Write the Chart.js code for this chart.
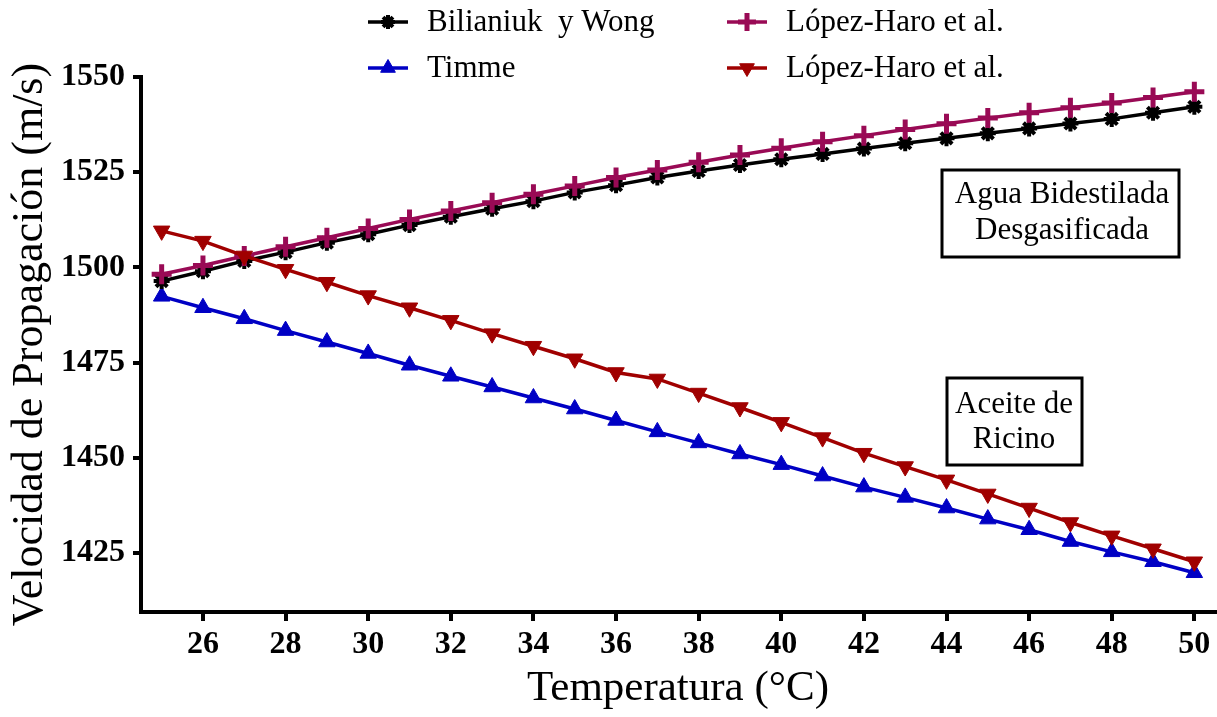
<!DOCTYPE html>
<html lang="es">
<head>
  <meta charset="UTF-8" />
  <title>Velocidad de propagación vs temperatura</title>
  <style>
    body {
      margin: 0;
      background: #fff;
    }
    #wrap {
      width: 1217px;
      height: 717px;
    }
  </style>
  <script src="https://cdn.jsdelivr.net/npm/chart.js"></script>
</head>
<body>

  <div id="wrap">
    <canvas id="velChart" width="1217" height="717"></canvas>
  </div>

  <script>
    // datos
    const temperatures = [25, 26, 27, 28, 29, 30, 31, 32, 33, 34, 35, 36, 37,
                          38, 39, 40, 41, 42, 43, 44, 45, 46, 47, 48, 49, 50];

    const bilianiukWong = [1496.4, 1499.0, 1501.7, 1504.0, 1506.5, 1508.7, 1511.1, 1513.3, 1515.4,
                           1517.4, 1519.7, 1521.6, 1523.6, 1525.3, 1526.9, 1528.4, 1529.8, 1531.2,
                           1532.6, 1533.9, 1535.2, 1536.5, 1537.8, 1539.0, 1540.6, 1542.2];

    const lopezHaroAgua = [1498.2, 1500.5, 1503.0, 1505.4, 1507.8, 1510.2, 1512.6, 1514.8, 1517.0,
                           1519.2, 1521.4, 1523.6, 1525.6, 1527.6, 1529.5, 1531.3, 1533.0, 1534.6,
                           1536.2, 1537.7, 1539.2, 1540.6, 1541.9, 1543.2, 1544.6, 1546.1];

    const timme = [1492.4, 1489.4, 1486.5, 1483.4, 1480.4, 1477.4, 1474.3, 1471.4, 1468.6,
                   1465.7, 1462.8, 1459.8, 1456.8, 1453.9, 1451.0, 1448.2, 1445.2, 1442.3,
                   1439.6, 1436.8, 1433.9, 1431.1, 1428.0, 1425.3, 1422.7, 1419.8];

    const lopezHaroRicino = [1509.6, 1506.9, 1503.0, 1499.5, 1496.1, 1492.6, 1489.4, 1486.1, 1482.6,
                             1479.3, 1476.0, 1472.4, 1470.7, 1467.0, 1463.2, 1459.3, 1455.3, 1451.2,
                             1447.7, 1444.2, 1440.5, 1436.8, 1433.0, 1429.5, 1426.1, 1422.7];

    const xTickValues = [26, 28, 30, 32, 34, 36, 38, 40, 42, 44, 46, 48, 50];
    const yTickValues = [1425, 1450, 1475, 1500, 1525, 1550];

    const serif = "'Liberation Serif', 'Times New Roman', serif";

    const toPoints = (ys) => ys.map((y, i) => ({ x: temperatures[i], y: y }));

    // leyenda en dos columnas, como en la figura
    const legendSlots = [
      { ds: 0, x: 368, y: 22 },
      { ds: 2, x: 727, y: 22 },
      { ds: 1, x: 368, y: 68 },
      { ds: 3, x: 727, y: 68 }
    ];

    const customLegend = {
      id: 'customLegend',
      afterDraw(chart) {
        const ctx = chart.ctx;
        ctx.save();
        legendSlots.forEach(slot => {
          const ds = chart.data.datasets[slot.ds];
          ctx.strokeStyle = ds.borderColor;
          ctx.lineWidth = 3.5;
          ctx.beginPath();
          ctx.moveTo(slot.x, slot.y);
          ctx.lineTo(slot.x + 40, slot.y);
          ctx.stroke();
          ctx.fillStyle = ds.pointBackgroundColor;
          ctx.strokeStyle = ds.pointBorderColor;
          ctx.lineWidth = ds.pointBorderWidth;
          Chart.helpers.drawPoint(ctx, {
            pointStyle: ds.pointStyle,
            radius: ds.pointRadius - 1,
            rotation: ds.pointRotation || 0,
            borderWidth: ds.pointBorderWidth
          }, slot.x + 20, slot.y);
          ctx.fillStyle = '#000';
          ctx.font = '31px ' + serif;
          ctx.textAlign = 'left';
          ctx.textBaseline = 'middle';
          ctx.fillText(ds.label, slot.x + 59, slot.y + 1);
        });
        ctx.restore();
      }
    };

    // cuadros de texto
    const notes = [
      { box: [942, 170, 237, 87], lines: ['Agua Bidestilada', 'Desgasificada'], cx: 1062, ys: [195, 231] },
      { box: [947, 378, 135, 87], lines: ['Aceite de', 'Ricino'], cx: 1014, ys: [405, 440] }
    ];

    const noteBoxes = {
      id: 'noteBoxes',
      afterDraw(chart) {
        const ctx = chart.ctx;
        ctx.save();
        notes.forEach(n => {
          ctx.fillStyle = '#fff';
          ctx.fillRect(n.box[0], n.box[1], n.box[2], n.box[3]);
          ctx.strokeStyle = '#000';
          ctx.lineWidth = 3;
          ctx.strokeRect(n.box[0], n.box[1], n.box[2], n.box[3]);
          ctx.fillStyle = '#000';
          ctx.font = '31px ' + serif;
          ctx.textAlign = 'center';
          ctx.textBaseline = 'middle';
          n.lines.forEach((t, i) => ctx.fillText(t, n.cx, n.ys[i]));
        });
        ctx.restore();
      }
    };

    const ctx = document.getElementById('velChart').getContext('2d');

    new Chart(ctx, {
      type: 'line',
      data: {
        datasets: [
          {
            label: 'Bilianiuk  y Wong',
            data: toPoints(bilianiukWong),
            borderColor: '#000000',
            borderWidth: 3.5,
            pointStyle: 'star',
            pointRadius: 8,
            pointBorderWidth: 4,
            pointBorderColor: '#000000',
            pointBackgroundColor: '#000000',
            order: 3
          },
          {
            label: 'Timme',
            data: toPoints(timme),
            borderColor: '#0000c4',
            borderWidth: 3.5,
            pointStyle: 'triangle',
            pointRadius: 9.5,
            pointBorderWidth: 1,
            pointBorderColor: '#0000c4',
            pointBackgroundColor: '#0000c4',
            order: 4
          },
          {
            label: 'López-Haro et al.',
            data: toPoints(lopezHaroAgua),
            borderColor: '#990a55',
            borderWidth: 3.5,
            pointStyle: 'cross',
            pointRadius: 10,
            pointBorderWidth: 5,
            pointBorderColor: '#990a55',
            pointBackgroundColor: '#990a55',
            order: 2
          },
          {
            label: 'López-Haro et al.',
            data: toPoints(lopezHaroRicino),
            borderColor: '#a00000',
            borderWidth: 3.5,
            pointStyle: 'triangle',
            pointRotation: 180,
            pointRadius: 9.5,
            pointBorderWidth: 1,
            pointBorderColor: '#a00000',
            pointBackgroundColor: '#a00000',
            order: 1
          }
        ]
      },
      options: {
        responsive: false,
        animation: false,
        layout: {
          autoPadding: false,
          padding: { top: 77, right: 2, bottom: 0, left: 0 }
        },
        plugins: {
          legend: { display: false },
          tooltip: { enabled: false }
        },
        elements: {
          line: { tension: 0 }
        },
        scales: {
          x: {
            type: 'linear',
            min: 24.5,
            max: 50.5,
            afterBuildTicks: (scale) => { scale.ticks = xTickValues.map(v => ({ value: v })); },
            afterFit: (scale) => {
              scale.height = 105;
              scale.paddingLeft = 0;
              scale.paddingRight = 0;
            },
            border: { display: true, color: '#000', width: 4 },
            grid: { drawOnChartArea: false, drawTicks: true, tickLength: 9, tickWidth: 4, tickColor: '#000', lineWidth: 4 },
            ticks: {
              color: '#000',
              padding: 5,
              maxRotation: 0,
              autoSkip: false,
              callback: (v) => String(v),
              font: { family: serif, size: 32, weight: 'bold' }
            },
            title: {
              display: true,
              text: 'Temperatura (°C)',
              color: '#000',
              padding: { top: 0, bottom: 2 },
              font: { family: serif, size: 43 }
            }
          },
          y: {
            min: 1409.5,
            max: 1550,
            afterBuildTicks: (scale) => { scale.ticks = yTickValues.map(v => ({ value: v })); },
            afterFit: (scale) => { scale.width = 141; },
            border: { display: true, color: '#000', width: 4 },
            grid: { drawOnChartArea: false, drawTicks: true, tickLength: 8, tickWidth: 4, tickColor: '#000', lineWidth: 4 },
            ticks: {
              color: '#000',
              padding: 8,
              autoSkip: false,
              callback: (v) => String(v),
              font: { family: serif, size: 32, weight: 'bold' }
            },
            title: {
              display: true,
              text: 'Velocidad de Propagación (m/s)',
              color: '#000',
              padding: { top: 4, bottom: 0 },
              font: { family: serif, size: 44 }
            }
          }
        }
      },
      plugins: [customLegend, noteBoxes]
    });
  </script>

</body>
</html>
